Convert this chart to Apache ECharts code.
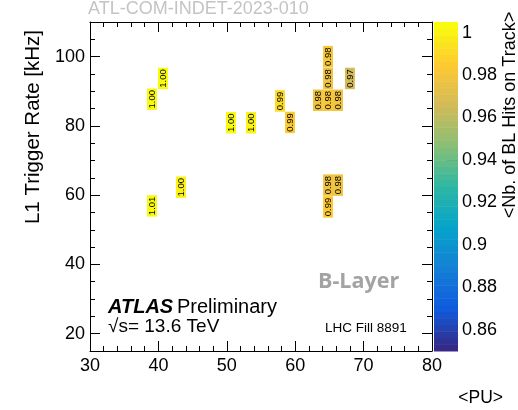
<!DOCTYPE html>
<html><head><meta charset="utf-8">
<script src="https://cdn.jsdelivr.net/npm/echarts@6/dist/echarts.min.js"></script>
<style>html,body{margin:0;padding:0;background:#fff}#c{width:518px;height:410px}</style>
</head><body><div id="c"></div>
<script>
// ---- data ----
const puCenters   = [39.06, 40.67, 39.06, 43.30, 50.61, 53.54, 57.78, 59.24, 63.33, 64.80, 64.80, 64.80, 66.26, 68.00, 64.80, 64.80, 66.26];
const rateCenters = [87.7, 93.7, 56.9, 62.3, 80.9, 80.9, 87.2, 81.0, 87.4, 100.0, 93.7, 87.4, 87.4, 93.7, 62.9, 56.6, 62.9];
const meanHits    = [1.002, 1.003, 1.006, 1.001, 1.002, 1.001, 0.991, 0.986, 0.980, 0.981, 0.980, 0.981, 0.979, 0.967, 0.980, 0.986, 0.980];
const xTicks = [30, 40, 50, 60, 70, 80];
const yTicks = [20, 40, 60, 80, 100];
const zTicks = [0.86, 0.88, 0.90, 0.92, 0.94, 0.96, 0.98, 1.00];
const binWidthPU = 1.45;
const binHeightRate = 6.2;
const zMin = 0.85, zMax = 1.005, nContours = 50;

// ROOT kBird palette
const birdStops = [0, 0.125, 0.25, 0.375, 0.5, 0.625, 0.75, 0.875, 1];
const birdR = [0.2082, 0.0592, 0.0780, 0.0232, 0.1802, 0.5301, 0.8186, 0.9956, 0.9764];
const birdG = [0.1664, 0.3599, 0.5041, 0.6419, 0.7178, 0.7492, 0.7328, 0.7862, 0.9832];
const birdB = [0.5293, 0.8684, 0.8385, 0.7914, 0.6425, 0.4662, 0.3499, 0.1968, 0.0539];
function bird(f) {
  f = Math.max(0, Math.min(1, f));
  let k = 0;
  while (k < birdStops.length - 2 && f > birdStops[k + 1]) k++;
  const t = (f - birdStops[k]) / (birdStops[k + 1] - birdStops[k]);
  const c = a => Math.round(255 * (a[k] + (a[k + 1] - a[k]) * t));
  return 'rgb(' + c(birdR) + ',' + c(birdG) + ',' + c(birdB) + ')';
}
const bandW = (zMax - zMin) / nContours;
function zColor(v) {
  let idx = Math.floor((v - zMin) / bandW);
  idx = Math.max(0, Math.min(nContours - 1, idx));
  return bird(idx / (nContours - 1));
}

const FONT = '"Liberation Sans", Arial, sans-serif';
const cells = puCenters.map((x, i) => [x, rateCenters[i], meanHits[i]]);
const bands = Array.from({length: nContours}, (_, i) => [0.5, zMin + i * bandW, i]);

const lineBlack = {color: '#000', width: 1};
function xAx(pos, labels) {
  return {gridIndex: 0, type: 'value', min: 30, max: 80, interval: 10, position: pos,
    axisLine: {show: true, onZero: false, lineStyle: lineBlack},
    axisTick: {show: true, inside: true, length: 10, lineStyle: lineBlack},
    minorTick: {show: true, splitNumber: 5, length: 5, lineStyle: lineBlack},
    axisLabel: {show: labels, fontSize: 18, fontFamily: FONT, color: '#000', margin: 6},
    splitLine: {show: false}};
}
function yMinor(pos) {
  return {gridIndex: 0, type: 'value', min: 15, max: 110, interval: 5, position: pos,
    axisLine: {show: true, onZero: false, lineStyle: lineBlack},
    axisTick: {show: true, inside: true, length: 5, lineStyle: lineBlack},
    axisLabel: {show: false}, splitLine: {show: false}};
}
function yMajor(pos, labels) {
  return {gridIndex: 0, type: 'value', min: 15, max: 110, position: pos,
    axisLine: {show: false, onZero: false},
    axisTick: {show: true, inside: true, length: 10, customValues: yTicks, lineStyle: lineBlack},
    axisLabel: {show: labels, customValues: yTicks, fontSize: 18, fontFamily: FONT, color: '#000', margin: 5},
    splitLine: {show: false}};
}

const option = {
  animation: false,
  backgroundColor: '#fff',
  grid: [
    {left: 90, top: 22, width: 342, height: 329},
    {left: 434, top: 22, width: 24, height: 329}
  ],
  xAxis: [
    xAx('bottom', true),
    xAx('top', false),
    {gridIndex: 1, type: 'value', min: 0, max: 1, show: false}
  ],
  yAxis: [
    yMinor('left'), yMajor('left', true), yMinor('right'), yMajor('right', false),
    {gridIndex: 1, type: 'value', min: zMin, max: zMax, position: 'right',
      axisLine: {show: false, onZero: false},
      axisTick: {show: true, inside: true, length: 11, customValues: zTicks, lineStyle: lineBlack},
      axisLabel: {show: true, customValues: zTicks, fontSize: 18, fontFamily: FONT, color: '#000', margin: 4,
        formatter: v => String(+(+v).toFixed(2))},
      splitLine: {show: false}}
  ],
  series: [
    {type: 'custom', xAxisIndex: 0, yAxisIndex: 0, data: cells, z: 5,
      renderItem: function (params, api) {
        const x = api.value(0), y = api.value(1), v = api.value(2);
        const p0 = api.coord([x - binWidthPU / 2, y + binHeightRate / 2]);
        const s = api.size([binWidthPU, binHeightRate]);
        const c = api.coord([x, y]);
        return {type: 'group', children: [
          {type: 'rect', shape: {x: p0[0], y: p0[1], width: s[0], height: s[1]}, style: {fill: zColor(v)}},
          {type: 'text', x: c[0], y: c[1], rotation: Math.PI / 2,
            style: {text: v.toFixed(2), fontSize: 9.5, fontFamily: FONT, fill: '#000', align: 'center', verticalAlign: 'middle'}}
        ]};
      }},
    {type: 'custom', xAxisIndex: 2, yAxisIndex: 4, data: bands,
      renderItem: function (params, api) {
        const lo = api.value(1), i = api.value(2);
        const p1 = api.coord([0, lo + bandW]);
        const p2 = api.coord([1, lo]);
        return {type: 'rect', shape: {x: p1[0], y: p1[1], width: p2[0] - p1[0], height: p2[1] - p1[1] + 0.5},
          style: {fill: bird(i / (nContours - 1))}};
      }}
  ],
  graphic: [
    {type: 'text', style: {x: 88, y: 9, text: 'ATL-COM-INDET-2023-010', font: '18px ' + FONT, fill: '#c4c4c4', verticalAlign: 'middle'}},
    {type: 'text', x: 33, y: 127, rotation: Math.PI / 2,
      style: {x: 0, y: 0, text: 'L1 Trigger Rate [kHz]', font: '20.5px ' + FONT, fill: '#000', align: 'center', verticalAlign: 'middle'}},
    {type: 'text', x: 510, y: 115, rotation: Math.PI / 2,
      style: {x: 0, y: 0, text: '<Nb. of BL Hits on Track>', font: '18px ' + FONT, fill: '#000', align: 'center', verticalAlign: 'middle'}},
    {type: 'text', style: {x: 503, y: 398, text: '<PU>', font: '17.5px ' + FONT, fill: '#000', align: 'right', verticalAlign: 'middle'}},
    {type: 'text', style: {x: 108, y: 307, text: 'ATLAS', font: 'italic bold 20px ' + FONT, fill: '#000', verticalAlign: 'middle'}},
    {type: 'text', style: {x: 177, y: 307, text: 'Preliminary', font: '20px ' + FONT, fill: '#000', verticalAlign: 'middle'}},
    {type: 'text', style: {x: 108, y: 327, text: '\u221As= 13.6 TeV', font: '19px ' + FONT, fill: '#000', verticalAlign: 'middle'}},
    {type: 'text', style: {x: 325, y: 328, text: 'LHC Fill 8891', font: '13.5px ' + FONT, fill: '#000', verticalAlign: 'middle'}},
    {type: 'text', style: {x: 318, y: 282, text: 'B-Layer', font: 'bold 21.5px "Open Sans", sans-serif', fill: '#a3a3a3', verticalAlign: 'middle'}}
  ]
};
const chart = echarts.init(document.getElementById('c'), null, {renderer: 'canvas'});
chart.setOption(option);
</script></body></html>
